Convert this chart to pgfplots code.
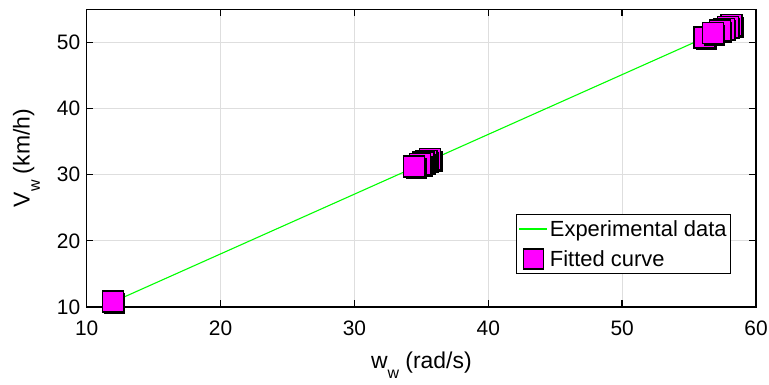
\documentclass[border=0pt]{standalone}
\usepackage{pgfplots}
\pgfplotsset{compat=1.18}
\usepackage{fontspec}
\setmainfont{Liberation Sans}
\definecolor{mymag}{rgb}{1,0,1}
\definecolor{mygreen}{rgb}{0,1,0}
\definecolor{mygrid}{rgb}{0.87,0.87,0.87}
\pgfdeclareplotmark{shsq}{%
  \pgfsetfillcolor{black}%
  \pgfpathrectangle{\pgfpoint{-\pgfplotmarksize+2bp}{-\pgfplotmarksize-2bp}}{\pgfpoint{2\pgfplotmarksize}{2\pgfplotmarksize}}%
  \pgfusepath{fill}%
  \pgfsetfillcolor{mymag}%
  \pgfpathrectangle{\pgfpoint{-\pgfplotmarksize}{-\pgfplotmarksize}}{\pgfpoint{2\pgfplotmarksize}{2\pgfplotmarksize}}%
  \pgfusepath{fill,stroke}%
}
\begin{document}
\begin{tikzpicture}
\begin{axis}[
  scale only axis,
  width=669.3bp, height=297.7bp,
  xmin=10, xmax=60, ymin=10, ymax=55,
  xtick={10,20,30,40,50,60},
  ytick={10,20,30,40,50},
  grid=major,
  major grid style={mygrid, line width=0.8bp},
  axis line style={black, line width=1.3bp},
  major tick style={black, line width=1.3bp},
  major tick length=6.7bp,
  tick align=inside,
  clip=false,
  /pgf/number format/assume math mode=true,
  ticklabel style={font=\fontsize{21}{24}\selectfont},
  yticklabel style={xshift=-3bp},
  xticklabel style={yshift=-10bp},
  xlabel={w\raisebox{-0.45em}{\fontsize{16}{16}\selectfont w} (rad/s)},
  ylabel={V\raisebox{-0.45em}{\fontsize{16}{16}\selectfont w} (km/h)},
  label style={font=\fontsize{23}{26}\selectfont},
  xlabel style={at={(axis description cs:0.5,-0.207)}, anchor=base},
  ylabel style={at={(axis description cs:-0.0852,0.5)}, anchor=base},
  legend cell align=left,
  legend style={at={(axis description cs:0.9627,0.1108)}, anchor=south east,
    font=\fontsize{22}{24}\selectfont, draw=black, line width=0.8bp,
    inner xsep=2bp, inner ysep=4bp, row sep=8bp,
    nodes={inner sep=2bp}},
]
\coordinate (SW) at (rel axis cs:0,0);
\coordinate (NE) at (rel axis cs:1,1);
\addplot[mygreen, line width=1.1bp,
  legend image code/.code={\draw[mygreen, line width=1.5bp] (0bp,0.4bp) -- (28bp,0.4bp);}]
  coordinates {(11.95,10.75) (58.16,52.5)};
\addlegendentry{Experimental data}
\addplot[only marks, mark=shsq, mark size=10.5bp,
  mark options={draw=black, line width=1.5bp},
  legend image code/.code={\draw[black, fill=mymag, line width=1.2bp] (4bp,-10bp) rectangle (24bp,10bp);}]
  coordinates {
  (11.95,10.8)
  (35.65,32.35) (35.4,32.1) (35.15,31.85) (34.9,31.6) (34.46,31.25)
  (56.14,50.77) (58.16,52.62) (57.9,52.35) (57.6,52.05) (57.3,51.8) (56.77,51.4)
  };
\addlegendentry{Fitted curve}
\end{axis}
\pgfresetboundingbox
\useasboundingbox ([shift={(-86.7bp,-78bp)}]SW) rectangle ([shift={(13bp,9.3bp)}]NE);
\end{tikzpicture}
\end{document}
